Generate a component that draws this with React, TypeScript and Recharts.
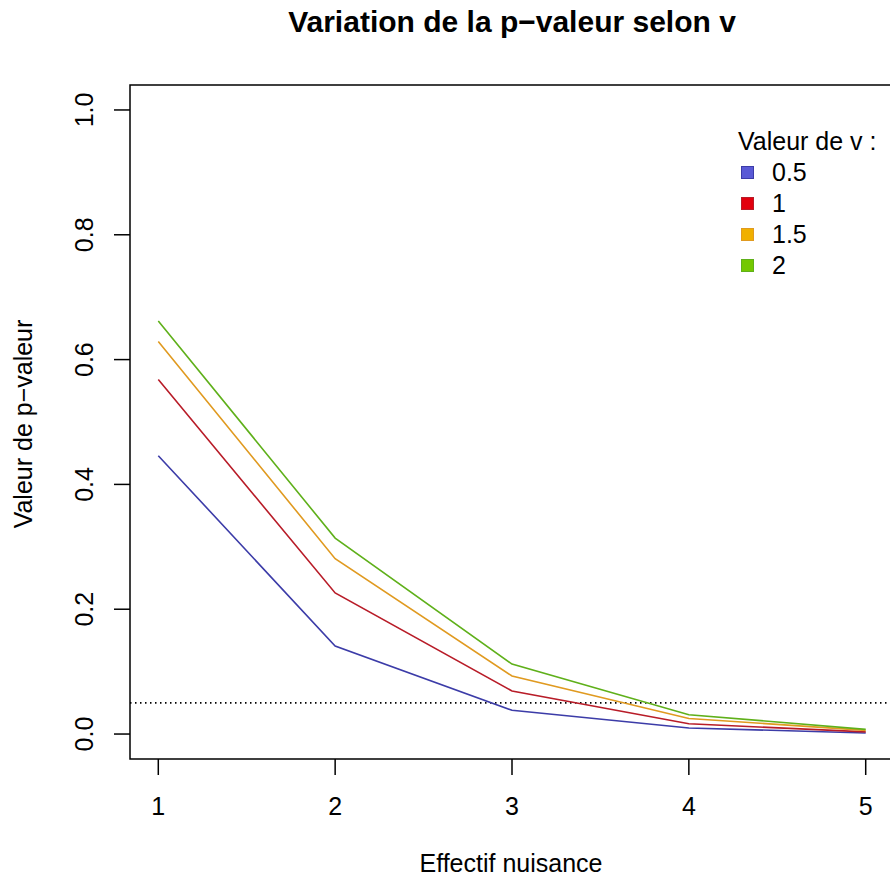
import { LineChart, Line, XAxis, YAxis, ReferenceLine, ReferenceArea } from "recharts";

// Effectif nuisance (x) and p-values for each v
const EFFECTIF = [1, 2, 3, 4, 5];
const P_V05 = [0.446, 0.141, 0.038, 0.0097, 0.0017];
const P_V1 = [0.568, 0.226, 0.069, 0.0165, 0.0035];
const P_V15 = [0.629, 0.281, 0.093, 0.025, 0.0058];
const P_V2 = [0.662, 0.314, 0.112, 0.031, 0.0075];

const X_TICKS = [1, 2, 3, 4, 5];
const Y_TICKS = [0, 0.2, 0.4, 0.6, 0.8, 1.0];
const SEUIL = 0.05;

const SERIES = [
    { key: "v05", label: "0.5", line: "#3c3ca8", box: "#5a5ad6", values: P_V05 },
    { key: "v1", label: "1", line: "#b81c28", box: "#e2000e", values: P_V1 },
    { key: "v15", label: "1.5", line: "#e09a20", box: "#f0b000", values: P_V15 },
    { key: "v2", label: "2", line: "#5fb01a", box: "#74c800", values: P_V2 },
];

const data = EFFECTIF.map((x, i) => {
    const row: Record<string, number> = { x };
    SERIES.forEach((s) => (row[s.key] = s.values[i]));
    return row;
});

const FONT = "'Liberation Sans', Arial, sans-serif";
const FS = 25;

function YTick(props: any) {
    const { x, y, payload } = props;
    return (
        <text
            x={x}
            y={y}
            transform={`rotate(-90, ${x}, ${y})`}
            textAnchor="middle"
            fontSize={FS}
            fontFamily={FONT}
            fill="#000"
        >
            {payload.value.toFixed(1)}
        </text>
    );
}

export default function App() {
    return (
        <div
            style={{
                position: "absolute",
                left: 0,
                top: 0,
                width: 890,
                height: 877,
                overflow: "hidden",
                background: "#fff",
                fontFamily: FONT,
            }}
        >
            <LineChart
                width={900}
                height={877}
                data={data}
                margin={{ top: 85, right: 6, bottom: 0, left: 0 }}
            >
                <XAxis
                    dataKey="x"
                    type="number"
                    domain={[0.84, 5.16]}
                    ticks={X_TICKS}
                    height={118}
                    axisLine={false}
                    tickSize={16}
                    tickMargin={22}
                    tickLine={{ stroke: "#000", strokeWidth: 1.5 }}
                    tick={{ fontSize: FS, fontFamily: FONT, fill: "#000" }}
                    allowDataOverflow
                />
                <YAxis
                    type="number"
                    domain={[-0.04, 1.04]}
                    ticks={Y_TICKS}
                    width={130}
                    axisLine={false}
                    tickSize={16}
                    tickMargin={21}
                    tickLine={{ stroke: "#000", strokeWidth: 1.5 }}
                    tick={<YTick />}
                    allowDataOverflow
                />
                <ReferenceArea
                    x1={0.84}
                    x2={5.16}
                    y1={-0.04}
                    y2={1.04}
                    fill="none"
                    fillOpacity={0}
                    stroke="#000"
                    strokeWidth={1.5}
                />
                <ReferenceLine y={SEUIL} stroke="#000" strokeWidth={1.6} strokeDasharray="1.5 3.5" />
                {SERIES.map((s) => (
                    <Line
                        key={s.key}
                        dataKey={s.key}
                        stroke={s.line}
                        strokeWidth={1.6}
                        dot={false}
                        activeDot={false}
                        isAnimationActive={false}
                    />
                ))}
                <text x={512} y={32} textAnchor="middle" fontSize={30} fontWeight="bold" fontFamily={FONT} fill="#000">
                    Variation de la p−valeur selon v
                </text>
                <text x={511} y={872} textAnchor="middle" fontSize={FS} fontFamily={FONT} fill="#000">
                    Effectif nuisance
                </text>
                <text
                    x={32}
                    y={424}
                    transform="rotate(-90, 32, 424)"
                    textAnchor="middle"
                    fontSize={FS}
                    fontFamily={FONT}
                    fill="#000"
                >
                    Valeur de p−valeur
                </text>
            </LineChart>

            {/* legend, no border like R's bty = "n" */}
            <div style={{ position: "absolute", left: 738, top: 126, fontSize: FS, color: "#000", lineHeight: "31px" }}>
                <div>Valeur de v :</div>
                {SERIES.map((s) => (
                    <div key={s.key} style={{ display: "flex", alignItems: "center" }}>
                        <span
                            style={{
                                display: "inline-block",
                                width: 11,
                                height: 11,
                                background: s.box,
                                border: `1px solid ${s.line}`,
                                marginLeft: 3,
                                marginRight: 18,
                            }}
                        />
                        <span>{s.label}</span>
                    </div>
                ))}
            </div>
        </div>
    );
}
